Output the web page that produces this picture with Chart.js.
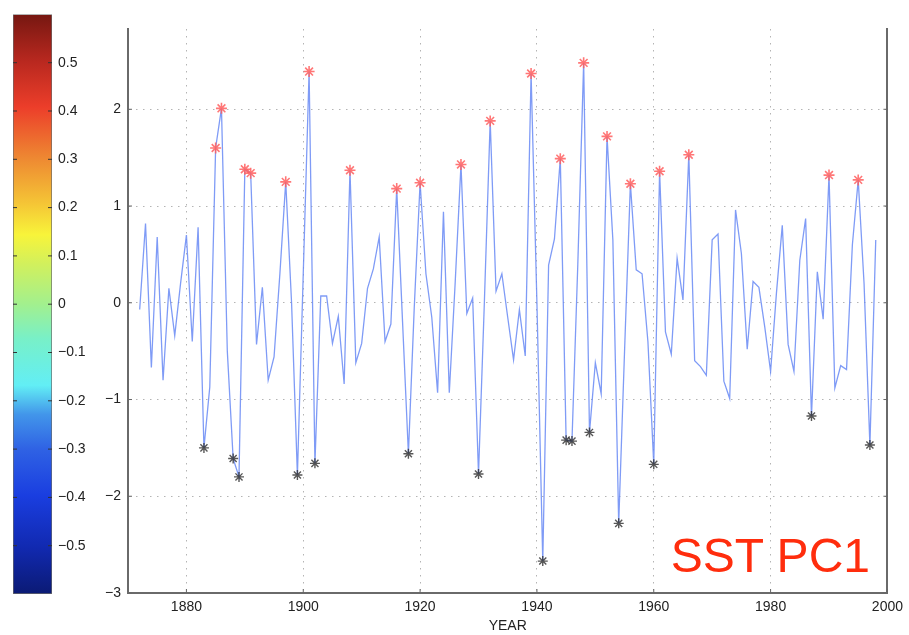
<!DOCTYPE html>
<html>
<head>
<meta charset="utf-8">
<title>SST PC1</title>
<script src="https://cdn.jsdelivr.net/npm/chart.js@4.4.0/dist/chart.umd.min.js"></script>
<style>
  html, body { margin: 0; padding: 0; background: #fff; }
  #wrap { position: relative; width: 909px; height: 635px; overflow: hidden; }
  #main, #cbar { position: absolute; left: 0; top: 0; }
  #tag {
    position: absolute; right: 39px; top: 532px;
    font: 48px "Liberation Sans", Arial, Helvetica, sans-serif;
    line-height: 48px; color: #ff2d0d; white-space: nowrap;
  }
</style>
</head>
<body>
<div id="wrap">
  <canvas id="main" width="909" height="635"></canvas>
  <canvas id="cbar" width="110" height="635"></canvas>
  <div id="tag">SST PC1</div>
</div>
<script>
// years of the record
const years = [
  1872, 1873, 1874, 1875, 1876, 1877, 1878, 1879, 1880, 1881,
  1882, 1883, 1884, 1885, 1886, 1887, 1888, 1889, 1890, 1891,
  1892, 1893, 1894, 1895, 1896, 1897, 1898, 1899, 1900, 1901,
  1902, 1903, 1904, 1905, 1906, 1907, 1908, 1909, 1910, 1911,
  1912, 1913, 1914, 1915, 1916, 1917, 1918, 1919, 1920, 1921,
  1922, 1923, 1924, 1925, 1926, 1927, 1928, 1929, 1930, 1931,
  1932, 1933, 1934, 1935, 1936, 1937, 1938, 1939, 1940, 1941,
  1942, 1943, 1944, 1945, 1946, 1947, 1948, 1949, 1950, 1951,
  1952, 1953, 1954, 1955, 1956, 1957, 1958, 1959, 1960, 1961,
  1962, 1963, 1964, 1965, 1966, 1967, 1968, 1969, 1970, 1971,
  1972, 1973, 1974, 1975, 1976, 1977, 1978, 1979, 1980, 1981,
  1982, 1983, 1984, 1985, 1986, 1987, 1988, 1989, 1990, 1991,
  1992, 1993, 1994, 1995, 1996, 1997, 1998
];

// SST PC1 value per year
const pc1 = [
  -0.07, 0.82, -0.67, 0.68, -0.80, 0.15, -0.34, 0.20, 0.70, -0.40,
   0.78, -1.50, -0.87, 1.60, 2.01, -0.50, -1.61, -1.80, 1.38, 1.34,
  -0.43, 0.16, -0.80, -0.56, 0.30, 1.25, 0.00, -1.78, 0.30, 2.39,
  -1.66, 0.07, 0.07, -0.42, -0.14, -0.84, 1.37, -0.62, -0.42, 0.15,
   0.35, 0.68, -0.40, -0.22, 1.18, -0.20, -1.56, -0.05, 1.24, 0.30,
  -0.15, -0.93, 0.94, -0.93, 0.20, 1.43, -0.11, 0.05, -1.77, 0.00,
   1.88, 0.12, 0.30, -0.15, -0.59, -0.07, -0.55, 2.37, 0.00, -2.67,
   0.39, 0.66, 1.49, -1.42, -1.43, 0.40, 2.48, -1.34, -0.62, -0.94,
   1.72, 0.65, -2.28, -0.50, 1.23, 0.34, 0.30, -0.40, -1.67, 1.36,
  -0.30, -0.53, 0.46, 0.03, 1.53, -0.60, -0.66, -0.75, 0.65, 0.71,
  -0.81, -0.99, 0.96, 0.51, -0.48, 0.22, 0.16, -0.25, -0.71, 0.10,
   0.80, -0.43, -0.71, 0.44, 0.87, -1.17, 0.32, -0.17, 1.32, -0.88,
  -0.65, -0.69, 0.60, 1.27, 0.20, -1.47, 0.65
];

// events marked with stars: above +1 (warm) and below -1 (cold)
const starLimit = 1;

// tick labels
const xTicks = [1880, 1900, 1920, 1940, 1960, 1980, 2000];
const yTicks = [-3, -2, -1, 0, 1, 2];
const cbarTicks = [-0.5, -0.4, -0.3, -0.2, -0.1, 0, 0.1, 0.2, 0.3, 0.4, 0.5];

// axis ranges
const xRange = [1870, 2000];
const yRange = [-3, 2.83];
const cbarRange = [-0.6, 0.6];

// colour bar stops (bottom -> top)
const jetStops = [
  [0.00, '#0b1a74'], [0.08, '#1129b0'], [0.17, '#1a3ee0'], [0.25, '#2f62e4'],
  [0.31, '#4296ea'], [0.36, '#62eef5'], [0.44, '#78f0c8'], [0.50, '#a2f08e'],
  [0.57, '#d2f05c'], [0.62, '#f8f43a'], [0.67, '#f5c836'], [0.75, '#ee8a32'],
  [0.84, '#ec3e2a'], [0.92, '#b8281f'], [1.00, '#761711']
];

const font = { family: '"Liberation Sans", Arial, Helvetica, sans-serif', size: 14 };
const minus = v => (v < 0 ? '\u2212' + String(Math.abs(v)) : String(v));

const points = years.map((yr, i) => ({ x: yr, y: pc1[i] }));
const warm = points.filter(p => p.y > starLimit);
const cold = points.filter(p => p.y < -starLimit);

// short MATLAB-style ticks pointing into the box
const innerTicks = {
  id: 'innerTicks',
  afterDatasetsDraw(chart, args, opts) {
    const { ctx, chartArea: a } = chart;
    ctx.save();
    ctx.strokeStyle = opts.color;
    ctx.lineWidth = 1;
    (opts.axes || []).forEach(id => {
      const s = chart.scales[id];
      s.ticks.forEach(t => {
        const p = s.getPixelForValue(t.value);
        ctx.beginPath();
        if (s.isHorizontal()) {
          ctx.moveTo(p, a.bottom);
          ctx.lineTo(p, a.bottom - opts.len);
        } else {
          ctx.moveTo(a.left, p);
          ctx.lineTo(a.left + opts.len, p);
          ctx.moveTo(a.right, p);
          ctx.lineTo(a.right - opts.len, p);
        }
        ctx.stroke();
      });
    });
    ctx.restore();
  }
};

new Chart(document.getElementById('main'), {
  type: 'line',
  data: {
    datasets: [
      {
        label: 'warm',
        data: warm,
        showLine: false,
        pointStyle: 'star',
        pointRadius: 5.5,
        borderColor: 'rgba(255, 95, 95, 0.85)',
        borderWidth: 1.6,
        order: 0
      },
      {
        label: 'cold',
        data: cold,
        showLine: false,
        pointStyle: 'star',
        pointRadius: 5,
        borderColor: 'rgba(45, 45, 45, 0.8)',
        borderWidth: 1.4,
        order: 0
      },
      {
        label: 'SST PC1',
        data: points,
        borderColor: 'rgba(105, 138, 245, 0.85)',
        borderWidth: 1.3,
        pointRadius: 0,
        tension: 0,
        order: 2
      }
    ]
  },
  options: {
    responsive: false,
    animation: false,
    devicePixelRatio: 1,
    layout: { padding: { left: 88, top: 29, right: 17, bottom: 0 } },
    plugins: {
      legend: { display: false },
      tooltip: { enabled: false },
      innerTicks: { axes: ['x', 'y'], len: 4, color: '#666' }
    },
    scales: {
      x: {
        type: 'linear',
        min: xRange[0],
        max: xRange[1],
        afterBuildTicks: s => { s.ticks = xTicks.map(v => ({ value: v })); },
        afterFit: s => { s.height = 42; },
        ticks: { font, color: '#222', padding: 6, callback: v => String(v) },
        grid: { color: '#b4b4b4', lineWidth: 1, drawTicks: false },
        border: { color: '#6a6a6a', width: 2, dash: [1.5, 5.5] },
        title: { display: true, text: 'YEAR', font, color: '#222', padding: 0 }
      },
      y: {
        min: yRange[0],
        max: yRange[1],
        afterBuildTicks: s => { s.ticks = yTicks.map(v => ({ value: v })); },
        afterFit: s => { s.width = 40; },
        ticks: { font, color: '#222', padding: 7, callback: minus },
        grid: { color: '#b4b4b4', lineWidth: 1, drawTicks: false },
        border: { color: '#6a6a6a', width: 2, dash: [1.5, 5.5] }
      },
      yRight: {
        position: 'right',
        min: yRange[0],
        max: yRange[1],
        afterFit: s => { s.width = 0; },
        ticks: { display: false },
        grid: { drawOnChartArea: false, drawTicks: false },
        border: { color: '#6a6a6a', width: 2 }
      }
    }
  },
  plugins: [innerTicks]
});

function jetGradient(context) {
  const { chart } = context;
  const a = chart.chartArea;
  if (!a) return null;
  const g = chart.ctx.createLinearGradient(0, a.bottom, 0, a.top);
  jetStops.forEach(([f, c]) => g.addColorStop(f, c));
  return g;
}

new Chart(document.getElementById('cbar'), {
  type: 'bar',
  data: {
    labels: ['colour scale'],
    datasets: [{
      data: [cbarRange],
      backgroundColor: jetGradient,
      borderColor: '#6a6a6a',
      borderWidth: 1,
      borderSkipped: false,
      categoryPercentage: 1,
      barPercentage: 1
    }]
  },
  options: {
    responsive: false,
    animation: false,
    devicePixelRatio: 1,
    layout: { padding: { left: 13, top: 12, right: 8, bottom: 41 } },
    plugins: {
      legend: { display: false },
      tooltip: { enabled: false },
      innerTicks: { axes: ['y'], len: 4, color: '#333' }
    },
    scales: {
      x: { display: false },
      y: {
        position: 'right',
        min: cbarRange[0],
        max: cbarRange[1],
        afterBuildTicks: s => { s.ticks = cbarTicks.map(v => ({ value: v })); },
        afterFit: s => { s.width = 50; },
        ticks: { font, color: '#222', padding: 6, autoSkip: false,
                 callback: v => (v === 0 ? '0' : minus(Number(v.toFixed(1)))) },
        grid: { display: false, drawTicks: false },
        border: { display: false }
      }
    }
  },
  plugins: [innerTicks]
});
</script>
</body>
</html>
